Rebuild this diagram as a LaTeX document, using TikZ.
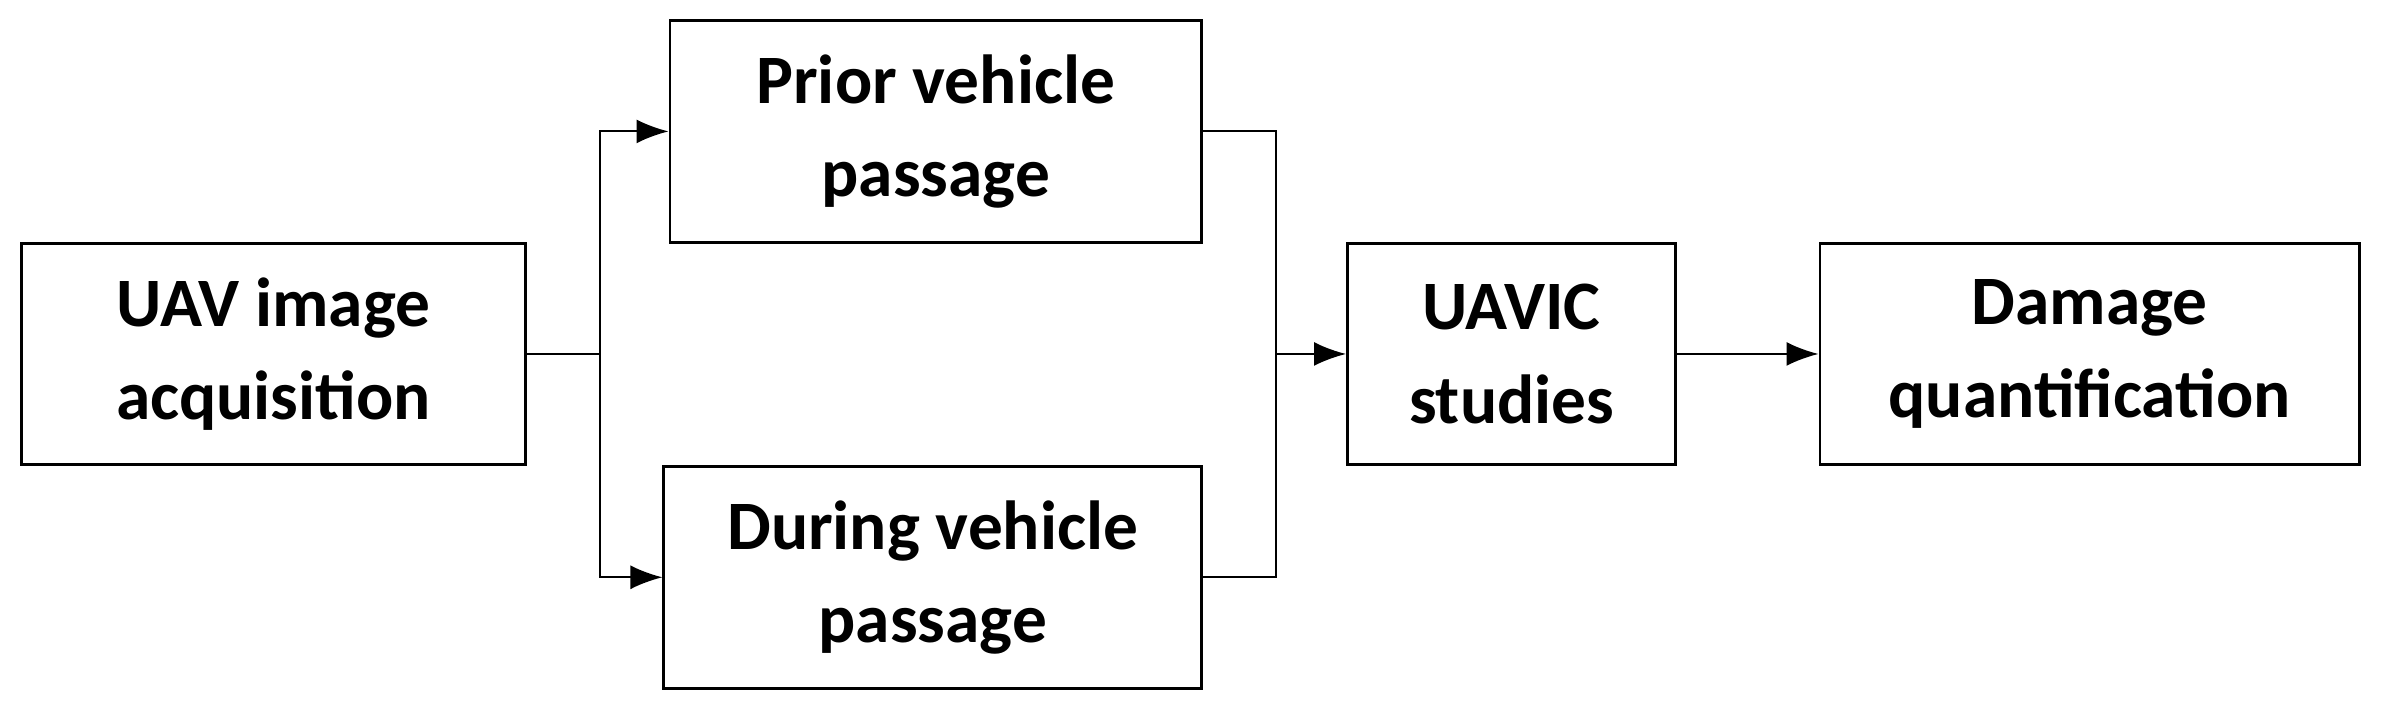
\documentclass[tikz,border=0pt]{standalone}
\usepackage{fontspec}
\setmainfont{Carlito}
\usetikzlibrary{arrows.meta}
\begin{document}
\begin{tikzpicture}[
                    x=0.02cm, y=-0.02cm,
                    every node/.style={
                        rectangle,
                        draw,
                        line width=1.1pt,
                        minimum height=2.92cm,
                        align=center,
                        font=\fontsize{26}{35}\selectfont\bfseries
                    },
                    link/.style={line width=0.8pt, -{Latex[length=12pt,width=9pt]}}
                ]
                    \useasboundingbox (0,0) rectangle (1568,467);

                    \node[minimum width=6.64cm] (uav) at (180,233) {UAV image\\acquisition};
                    \node[minimum width=7.0cm] (prior) at (616,86.5) {Prior vehicle\\passage};
                    \node[minimum width=7.08cm] (during) at (614,380) {During vehicle\\passage};
                    \node[minimum width=4.32cm] (uavic) at (995,233) {UAVIC\\studies};
                    \node[minimum width=7.1cm] (damage) at (1375.5,233) {Damage\\quantification};

                    \coordinate (split) at (395,233);
                    \coordinate (join) at (840,233);

                    % Edges
                    \draw[line width=0.8pt] (uav.east) -- (split);
                    \draw[link] (split) |- (prior.west);
                    \draw[link] (split) |- (during.west);
                    \draw[line width=0.8pt] (prior.east) -| (join);
                    \draw[line width=0.8pt] (during.east) -| (join);
                    \draw[link] (join) -- (uavic.west);
                    \draw[link] (uavic) -- (damage);
                \end{tikzpicture}
\end{document}
